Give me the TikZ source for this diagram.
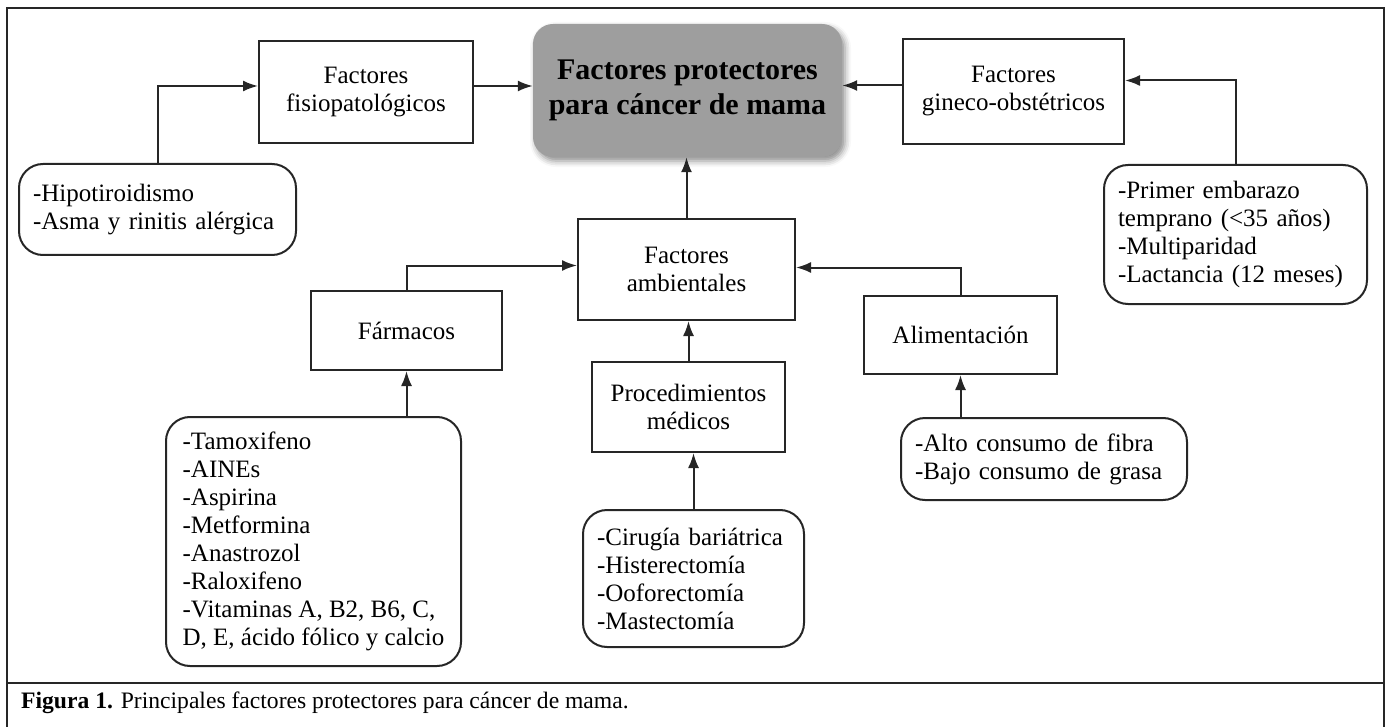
\documentclass[tikz,border=0pt]{standalone}
\usepackage{fontspec}
\setmainfont{Liberation Serif}
\usepackage{tikz}
\usetikzlibrary{arrows.meta,shadows.blur,positioning,calc}
\tikzstyle{caja}=[rectangle, draw=black!85, line width=2pt, align=center, inner sep=2pt, font=\fontsize{25}{28}\selectfont]
\tikzstyle{lista}=[rectangle, rounded corners=24pt, draw=black!85, line width=2pt, align=left, inner xsep=14pt, inner ysep=2pt, font=\fontsize{25}{28}\selectfont]
\tikzstyle{central}=[rectangle, rounded corners=20pt, fill=black!38, align=center, font=\fontsize{30}{35}\selectfont\bfseries,
  blur shadow={shadow xshift=3pt, shadow yshift=-4pt, shadow blur radius=6pt, shadow opacity=45}]
\tikzstyle{flecha}=[-{Latex[length=15pt,width=11pt]}, line width=2pt, draw=black!85]
\tikzstyle{marco}=[line width=2.5pt, draw=black!85]

\begin{document}
\begin{tikzpicture}[x=1pt, y=-1pt]
        \useasboundingbox (0,0) rectangle (1391,727);
        %
        \node at (687.5,90.5) [central, minimum width=309pt, minimum height=133pt] (cpm) {Factores protectores\\para cáncer de mama};
        \node at (366,92) [caja, minimum width=214pt, minimum height=102pt] (fisio) {Factores\\fisiopatológicos};
        \node at (1013.5,91.5) [caja, minimum width=221pt, minimum height=105pt] (gineco) {Factores\\gineco-obstétricos};
        \node at (686.5,269.5) [caja, minimum width=217pt, minimum height=101pt] (amb) {Factores\\ambientales};
        \node at (406.5,330.5) [caja, minimum width=191pt, minimum height=79pt] (farm) {Fármacos};
        \node at (960.5,335) [caja, minimum width=193pt, minimum height=78pt] (alim) {Alimentación};
        \node at (688.5,407) [caja, minimum width=193pt, minimum height=90pt] (proc) {Procedimientos\\médicos};
        %
        \node at (157.5,209.5) [lista, text width=249pt, minimum height=91pt] (hipo) {-Hipotiroidismo\\-Asma y rinitis alérgica};
        \node at (1235.5,234.5) [lista, text width=235pt, minimum height=139pt] (primer) {-Primer embarazo\\temprano (<35 años)\\-Multiparidad\\-Lactancia (12 meses)};
        \node at (313.5,541.5) [lista, minimum width=295pt, minimum height=249pt] (farmlist) {-Tamoxifeno\\-AINEs\\-Aspirina\\-Metformina\\-Anastrozol\\-Raloxifeno\\-Vitaminas A, B2, B6, C,\\D, E, ácido fólico y calcio};
        \node at (693.5,578.5) [lista, text width=193pt, minimum height=137pt] (proclist) {-Cirugía bariátrica\\-Histerectomía\\-Ooforectomía\\-Mastectomía};
        \node at (1044,459) [lista, text width=258pt, minimum height=82pt] (alilist) {-Alto consumo de fibra\\-Bajo consumo de grasa};
        %
        \draw[flecha] ([yshift=6pt]fisio.east) -- ([yshift=6pt]fisio.east -| cpm.west);
        \draw[flecha] ([yshift=6pt]gineco.west) -- ([yshift=6pt]gineco.west -| cpm.east);
        \draw[flecha] (hipo.north) |- ([yshift=6pt]fisio.west);
        \draw[flecha] (primer.north) |- ([yshift=11pt]gineco.east);
        \draw[flecha] (amb.north) -- (amb.north |- cpm.south);
        \draw[flecha] (farm.north) |- ([yshift=4pt]amb.west);
        \draw[flecha] (alim.north) |- ([yshift=2pt]amb.east);
        \draw[flecha] (proc.north) -- (proc.north |- amb.south);
        \draw[flecha] (farm.south |- farmlist.north) -- (farm.south);
        \draw[flecha] (proclist.north) -- (proclist.north |- proc.south);
        \draw[flecha] (alim.south |- alilist.north) -- (alim.south);
        %
        % marco y pie de figura
        \draw[marco] (7,730) -- (7,8) -- (1384,8) -- (1384,730);
        \draw[marco] (7,683) -- (1384,683);
        \node at (21,708) [anchor=base west, inner sep=0pt, font=\fontsize{23.6}{28}\selectfont] (pie) {\textbf{Figura 1.} Principales factores protectores para cáncer de mama.};
      \end{tikzpicture}
\end{document}
